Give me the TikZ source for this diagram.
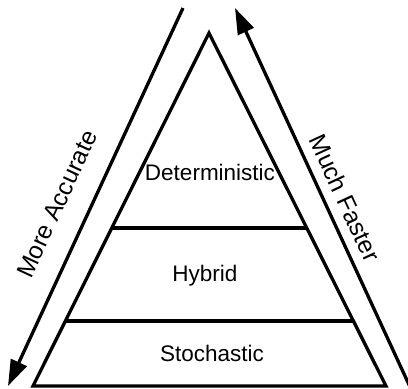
\documentclass[tikz,border=0pt]{standalone}
\usepackage{fontspec}
\setmainfont{Liberation Sans}
\usetikzlibrary{arrows.meta}
\begin{document}
\begin{tikzpicture}[x=1pt,y=-1pt,
  edge/.style={line width=3.3pt,line join=miter},
  tier/.style={line width=3.6pt},
  label/.style={font=\fontsize{22.5}{27}\selectfont,inner sep=0pt},
  sidelabel/.style={font=\fontsize{24.5}{29}\selectfont,inner sep=0pt},
  trend/.style={line width=3.3pt,-{Triangle[length=26pt,width=17pt]}}]
\useasboundingbox (0,0) rectangle (408,389);
\clip (0,0) rectangle (408,389);
% pyramid outline
\coordinate (apex) at (209,33);
\coordinate (bl) at (33,386);
\coordinate (br) at (386,386);
\draw[edge] (apex) -- (bl) -- (br) -- cycle;
% tier separators
\coordinate (u1) at (111.5,228);
\coordinate (u2) at (306.5,228);
\coordinate (l1) at (65.5,321);
\coordinate (l2) at (352.5,321);
\draw[tier] (u1) -- (u2);
\draw[tier] (l1) -- (l2);
% tier names
\node[label] (det) at (210,172) {Deterministic};
\node[label] (hyb) at (205,276) {Hybrid};
\node[label] (sto) at (212,353) {Stochastic};
% side arrows
\coordinate (a1s) at (183,8);
\coordinate (a1e) at (8,386);
\coordinate (a2s) at (411,389);
\coordinate (a2e) at (235,8);
\draw[trend] (a1s) -- (a1e);
\draw[trend] (a2s) -- (a2e);
\node[sidelabel,rotate=65.2] (acc) at (57,204) {More Accurate};
\node[sidelabel,rotate=-65.2] (fast) at (345,198) {Much Faster};
\end{tikzpicture}
\end{document}
